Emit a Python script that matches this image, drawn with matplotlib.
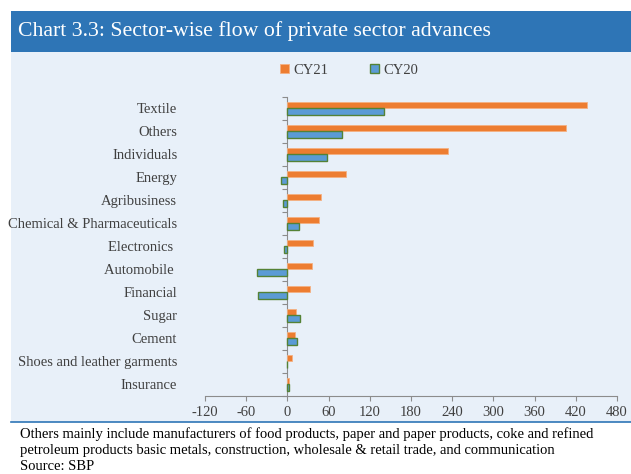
import matplotlib
matplotlib.use("Agg")
import matplotlib.pyplot as plt
from matplotlib.patches import Rectangle
import numpy as np

# Flow of private sector advances by sector
sectors = ["Textile", "Others", "Individuals", "Energy", "Agribusiness",
           "Chemical & Pharmaceuticals", "Electronics ", "Automobile ", "Financial",
           "Sugar", "Cement", "Shoes and leather garments", "Insurance"]
cy21 = [437, 406, 234, 85, 49, 46, 38, 36, 33, 13, 11, 6, 2]
cy20 = [140, 80, 57, -9, -6, 17, -5, -44, -43, 18, 14, -1, 2]
xticks = [-120, -60, 0, 60, 120, 180, 240, 300, 360, 420, 480]

title = "Chart 3.3: Sector-wise flow of private sector advances"
note = ("Others mainly include manufacturers of food products, paper and paper products, coke and refined\n"
        "petroleum products basic metals, construction, wholesale & retail trade, and communication")
source = "Source: SBP"

orange = "#ED7D31"
blue = "#5B9BD5"
dark_blue = "#2E75B6"
panel = "#E8F0F9"
txt = "#404040"
axis_grey = "#8C8C8C"

plt.rcParams["font.family"] = ["Liberation Serif", "DejaVu Serif"]

fig = plt.figure(figsize=(6.31, 4.74), dpi=100)
fig.patch.set_facecolor("white")

# background panel and title bar
fig.patches.append(Rectangle((11 / 631, 1 - 422 / 474), 1, (422 - 52) / 474,
                             transform=fig.transFigure, facecolor=panel, edgecolor="none", zorder=-2))
fig.patches.append(Rectangle((11 / 631, 1 - 52 / 474), 1, 41 / 474,
                             transform=fig.transFigure, facecolor=dark_blue, edgecolor="none", zorder=-2))
fig.add_artist(plt.Line2D([11 / 631, 1], [1 - 422 / 474] * 2, transform=fig.transFigure,
                          color=dark_blue, lw=1.2))
fig.text(18 / 631, 1 - 31 / 474, title, color="white", fontsize=15.7, va="center", ha="left")

ax = fig.add_axes([205 / 631, 1 - 395.7 / 474, 412 / 631, 299 / 474])
ax.set_facecolor("none")
ax.set_zorder(2)

n = len(sectors)
ypos = np.arange(n)[::-1]
h = 0.28
ax.barh(ypos + h / 2, cy21, height=h, color=orange, edgecolor="#F4B183", lw=0.6, label="CY21", zorder=3)
ax.barh(ypos - h / 2, cy20, height=h, color=blue, edgecolor="#548235", lw=1.0, label="CY20", zorder=3)

ax.set_xlim(-120, 480)
ax.set_ylim(-0.5, n - 0.5)
ax.set_xticks(xticks)
ax.set_xticklabels([str(v) for v in xticks], fontsize=10.5, color=txt)
ax.tick_params(axis="x", length=3.5, color=axis_grey, pad=4)
ax.set_yticks(ypos)
ax.set_yticklabels(sectors, fontsize=10.5, color=txt)
ax.tick_params(axis="y", length=0, pad=20)

for side in ["top", "right", "left"]:
    ax.spines[side].set_visible(False)
ax.spines["bottom"].set_color(axis_grey)

# category axis crossing at zero
zero_frac = (0 - xticks[0]) / (xticks[-1] - xticks[0])
sec = ax.secondary_yaxis(zero_frac)
sec.set_yticks(np.arange(n + 1) - 0.5)
sec.set_yticklabels([])
sec.tick_params(length=3.5, color=axis_grey)
sec.spines["left"].set_color(axis_grey)

fig.legend(loc="center", bbox_to_anchor=(349 / 631, 1 - 70 / 474), ncol=2, frameon=False,
           fontsize=10.5, handlelength=0.6, handleheight=0.6, handletextpad=0.3,
           columnspacing=2.9, labelcolor=txt)

fig.text(20 / 631, 1 - 427 / 474, note, fontsize=10.5, color="black", va="top", ha="left",
         linespacing=1.33)
fig.text(20 / 631, 1 - 466 / 474, source, fontsize=10.5, color="black", va="center", ha="left")

fig.savefig("out.png", dpi=100)
